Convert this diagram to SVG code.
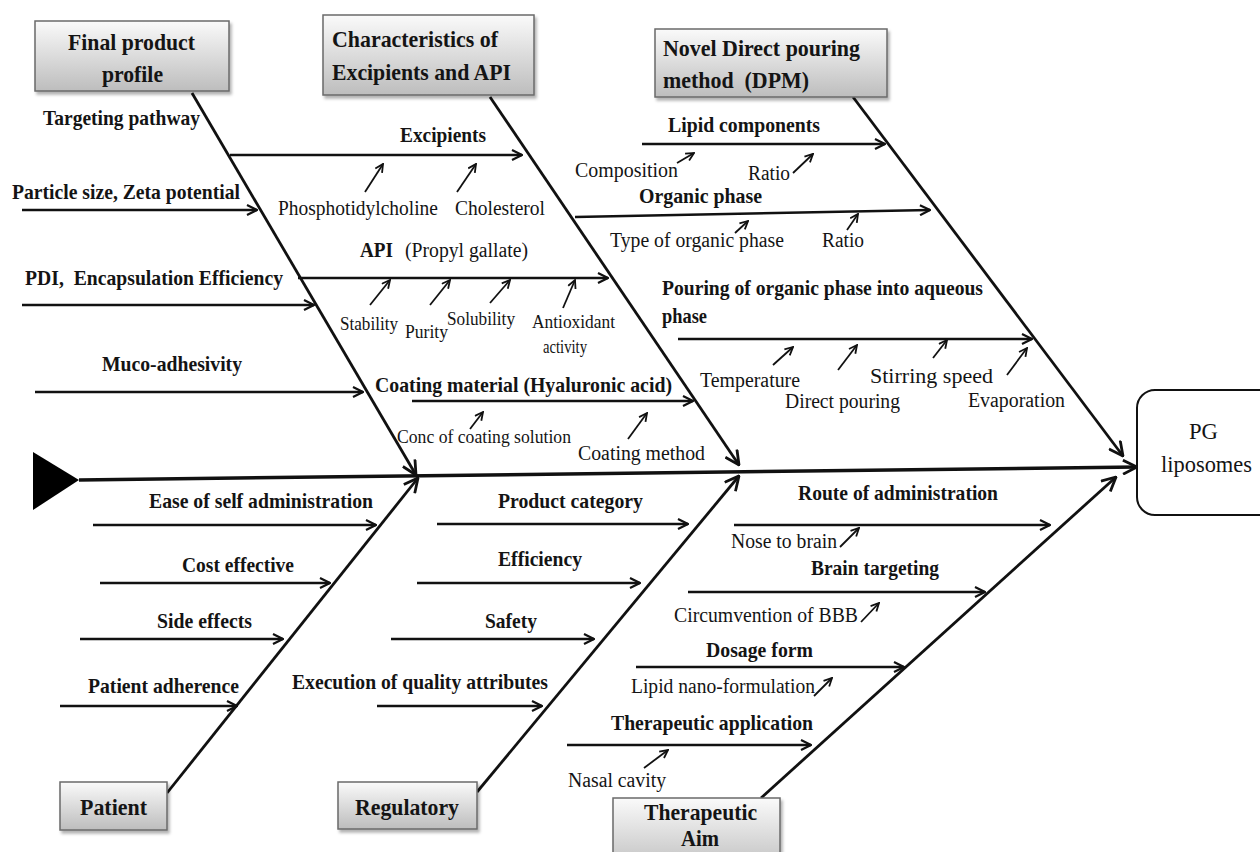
<svg xmlns="http://www.w3.org/2000/svg" width="1260" height="852" viewBox="0 0 1260 852">
<style>
.t{font-family:"Liberation Serif","Times New Roman",serif;fill:#141414}
.b{font-weight:bold;font-size:21px}
.r{font-size:20px}
.s{font-size:18px}
.h{font-weight:bold;font-size:24px}
.p{font-size:24px}
.box{fill:url(#g);stroke:#6a6a6a;stroke-width:1.5;filter:url(#sh)}
.ln{stroke:#111;fill:none;stroke-width:2.4;marker-end:url(#ah)}
.bone{stroke:#111;fill:none;stroke-width:2.8;marker-end:url(#ahb)}
.sm{stroke:#111;fill:none;stroke-width:1.8;marker-end:url(#sa)}
</style>
<defs>
<linearGradient id="g" x1="0" y1="0" x2="0" y2="1">
<stop offset="0" stop-color="#fafafa"/>
<stop offset="1" stop-color="#bdbdbd"/>
</linearGradient>
<filter id="sh" x="-10%" y="-10%" width="130%" height="140%">
<feDropShadow dx="2" dy="3" stdDeviation="1.5" flood-color="#000" flood-opacity="0.3"/>
</filter>
<marker id="ah" viewBox="0 0 12 12" markerWidth="12" markerHeight="12" refX="11" refY="6" orient="auto" markerUnits="userSpaceOnUse">
<path d="M1,1 L11,6 L1,11" fill="none" stroke="#111" stroke-width="2.2"/>
</marker>
<marker id="ahb" viewBox="0 0 16 16" markerWidth="16" markerHeight="16" refX="15" refY="8" orient="auto" markerUnits="userSpaceOnUse">
<path d="M1,1 L15,8 L1,15" fill="none" stroke="#111" stroke-width="2.8"/>
</marker>
<marker id="sa" viewBox="0 0 10 10" markerWidth="10" markerHeight="10" refX="9" refY="5" orient="auto" markerUnits="userSpaceOnUse">
<path d="M1,1 L9,5 L1,9" fill="none" stroke="#111" stroke-width="1.8"/>
</marker>
</defs>
<rect width="1260" height="852" fill="#fff"/>

<g id="connectors">
<polygon points="33,452 79,480 33,510" fill="#000"/>
<line x1="79" y1="480" x2="1137" y2="467" stroke="#111" stroke-width="3.5" marker-end="url(#ahb)"/>
<line class="bone" x1="192" y1="93" x2="416" y2="475"/>
<line class="bone" x1="167" y1="793" x2="418" y2="478"/>
<line class="bone" x1="490" y1="97" x2="739" y2="465"/>
<line class="bone" x1="477" y1="792" x2="739" y2="476"/>
<line class="bone" x1="853" y1="97" x2="1123" y2="456"/>
<line class="bone" x1="761" y1="798" x2="1116" y2="477"/>

<line class="ln" x1="22" y1="210" x2="257" y2="210"/>
<line class="ln" x1="22" y1="305" x2="314" y2="305"/>
<line class="ln" x1="35" y1="392" x2="363" y2="392"/>
<line class="ln" x1="93" y1="525" x2="376" y2="525"/>
<line class="ln" x1="100" y1="583" x2="330" y2="583"/>
<line class="ln" x1="80" y1="639" x2="283" y2="639"/>
<line class="ln" x1="60" y1="706" x2="237" y2="706"/>
<line class="ln" x1="230" y1="155" x2="522" y2="155"/>
<line class="ln" x1="298" y1="278" x2="608" y2="278"/>
<line class="ln" x1="412" y1="401" x2="693" y2="401"/>
<line class="ln" x1="642" y1="144" x2="885" y2="144"/>
<line class="ln" x1="575" y1="217" x2="930" y2="210"/>
<line class="ln" x1="678" y1="339" x2="1032" y2="339"/>
<line class="ln" x1="437" y1="524" x2="688" y2="524"/>
<line class="ln" x1="417" y1="583" x2="640" y2="583"/>
<line class="ln" x1="391" y1="639" x2="594" y2="639"/>
<line class="ln" x1="377" y1="706" x2="542" y2="706"/>
<line class="ln" x1="734" y1="525" x2="1050" y2="525"/>
<line class="ln" x1="688" y1="592" x2="985" y2="592"/>
<line class="ln" x1="636" y1="667" x2="904" y2="667"/>
<line class="ln" x1="567" y1="745" x2="811" y2="745"/>

<line class="sm" x1="365" y1="192" x2="383" y2="164"/>
<line class="sm" x1="457" y1="192" x2="476" y2="164"/>
<line class="sm" x1="370" y1="305" x2="390" y2="280"/>
<line class="sm" x1="430" y1="305" x2="450" y2="280"/>
<line class="sm" x1="490" y1="303" x2="510" y2="280"/>
<line class="sm" x1="563" y1="308" x2="575" y2="280"/>
<line class="sm" x1="470" y1="429" x2="483" y2="412"/>
<line class="sm" x1="628" y1="439" x2="647" y2="413"/>
<line class="sm" x1="677" y1="163" x2="694" y2="153"/>
<line class="sm" x1="793" y1="173" x2="813" y2="154"/>
<line class="sm" x1="735" y1="233" x2="748" y2="221"/>
<line class="sm" x1="847" y1="230" x2="858" y2="214"/>
<line class="sm" x1="773" y1="365" x2="793" y2="347"/>
<line class="sm" x1="838" y1="370" x2="857" y2="345"/>
<line class="sm" x1="933" y1="358" x2="947" y2="340"/>
<line class="sm" x1="1007" y1="375" x2="1027" y2="348"/>
<line class="sm" x1="840" y1="547" x2="859" y2="528"/>
<line class="sm" x1="861" y1="622" x2="879" y2="603"/>
<line class="sm" x1="814" y1="696" x2="832" y2="678"/>
<line class="sm" x1="644" y1="768" x2="668" y2="750"/>
</g>

<g id="node-final-product-profile">
<rect class="box" x="35" y="21" width="194" height="70"/>
<text class="t h" x="68" y="50" textLength="127" lengthAdjust="spacingAndGlyphs">Final product</text>
<text class="t h" x="102" y="82" textLength="61" lengthAdjust="spacingAndGlyphs">profile</text>
</g>
<g id="node-characteristics">
<rect class="box" x="323" y="15" width="211" height="80"/>
<text class="t h" x="332" y="47" textLength="166" lengthAdjust="spacingAndGlyphs">Characteristics of</text>
<text class="t h" x="332" y="80" textLength="179" lengthAdjust="spacingAndGlyphs">Excipients and API</text>
</g>
<g id="node-dpm">
<rect class="box" x="655" y="29" width="232" height="68"/>
<text class="t h" x="663" y="56" textLength="197" lengthAdjust="spacingAndGlyphs">Novel Direct pouring</text>
<text class="t h" x="663" y="88" textLength="146" lengthAdjust="spacingAndGlyphs" style="white-space:pre">method  (DPM)</text>
</g>
<g id="node-patient">
<rect class="box" x="60" y="782" width="107" height="48"/>
<text class="t h" x="80" y="815" textLength="67" lengthAdjust="spacingAndGlyphs">Patient</text>
</g>
<g id="node-regulatory">
<rect class="box" x="338" y="782" width="139" height="47"/>
<text class="t h" x="355" y="815" textLength="104" lengthAdjust="spacingAndGlyphs">Regulatory</text>
</g>
<g id="node-therapeutic-aim">
<rect class="box" x="613" y="798" width="167" height="75"/>
<text class="t h" x="644" y="820" textLength="113" lengthAdjust="spacingAndGlyphs">Therapeutic</text>
<text class="t h" x="681" y="846" textLength="38" lengthAdjust="spacingAndGlyphs">Aim</text>
</g>
<g id="node-pg-liposomes">
<rect x="1137" y="390" width="140" height="125" rx="18" ry="18" fill="#fff" stroke="#111" stroke-width="2"/>
<text class="t p" x="1189" y="439" textLength="29" lengthAdjust="spacingAndGlyphs">PG</text>
<text class="t p" x="1161" y="472" textLength="91" lengthAdjust="spacingAndGlyphs">liposomes</text>
</g>

<g id="labels-final-product">
<text class="t b" x="43" y="125" textLength="157" lengthAdjust="spacingAndGlyphs">Targeting pathway</text>
<text class="t b" x="12" y="199" textLength="228" lengthAdjust="spacingAndGlyphs">Particle size, Zeta potential</text>
<text class="t b" x="25" y="285" textLength="258" lengthAdjust="spacingAndGlyphs" style="white-space:pre">PDI,  Encapsulation Efficiency</text>
<text class="t b" x="102" y="371" textLength="140" lengthAdjust="spacingAndGlyphs">Muco-adhesivity</text>
</g>
<g id="labels-patient">
<text class="t b" x="149" y="508" textLength="224" lengthAdjust="spacingAndGlyphs">Ease of self administration</text>
<text class="t b" x="182" y="572" textLength="112" lengthAdjust="spacingAndGlyphs">Cost effective</text>
<text class="t b" x="157" y="628" textLength="95" lengthAdjust="spacingAndGlyphs">Side effects</text>
<text class="t b" x="88" y="693" textLength="151" lengthAdjust="spacingAndGlyphs">Patient adherence</text>
</g>
<g id="labels-characteristics">
<text class="t b" x="400" y="142" textLength="86" lengthAdjust="spacingAndGlyphs">Excipients</text>
<text class="t r" x="278" y="215" textLength="160" lengthAdjust="spacingAndGlyphs">Phosphotidylcholine</text>
<text class="t r" x="455" y="215" textLength="90" lengthAdjust="spacingAndGlyphs">Cholesterol</text>
<text class="t b" x="360" y="257" textLength="33" lengthAdjust="spacingAndGlyphs">API</text>
<text class="t r" x="405" y="257" textLength="123" lengthAdjust="spacingAndGlyphs">(Propyl gallate)</text>
<text class="t s" x="340" y="330" textLength="58" lengthAdjust="spacingAndGlyphs">Stability</text>
<text class="t s" x="405" y="338" textLength="43" lengthAdjust="spacingAndGlyphs">Purity</text>
<text class="t s" x="447" y="325" textLength="68" lengthAdjust="spacingAndGlyphs">Solubility</text>
<text class="t s" x="532" y="328" textLength="83" lengthAdjust="spacingAndGlyphs">Antioxidant</text>
<text class="t s" x="543" y="353" textLength="44" lengthAdjust="spacingAndGlyphs">activity</text>
<text class="t b" x="375" y="392" textLength="297" lengthAdjust="spacingAndGlyphs">Coating material (Hyaluronic acid)</text>
<text class="t s" x="397" y="443" textLength="174" lengthAdjust="spacingAndGlyphs">Conc of coating solution</text>
<text class="t r" x="578" y="460" textLength="127" lengthAdjust="spacingAndGlyphs">Coating method</text>
</g>
<g id="labels-dpm">
<text class="t b" x="668" y="132" textLength="152" lengthAdjust="spacingAndGlyphs">Lipid components</text>
<text class="t r" x="575" y="177" textLength="103" lengthAdjust="spacingAndGlyphs">Composition</text>
<text class="t r" x="748" y="180" textLength="42" lengthAdjust="spacingAndGlyphs">Ratio</text>
<text class="t b" x="639" y="203" textLength="123" lengthAdjust="spacingAndGlyphs">Organic phase</text>
<text class="t r" x="610" y="247" textLength="174" lengthAdjust="spacingAndGlyphs">Type of organic phase</text>
<text class="t r" x="822" y="247" textLength="42" lengthAdjust="spacingAndGlyphs">Ratio</text>
<text class="t b" x="662" y="295" textLength="321" lengthAdjust="spacingAndGlyphs">Pouring of organic phase into aqueous</text>
<text class="t b" x="662" y="323" textLength="45" lengthAdjust="spacingAndGlyphs">phase</text>
<text class="t r" x="700" y="387" textLength="100" lengthAdjust="spacingAndGlyphs">Temperature</text>
<text class="t r" x="785" y="408" textLength="115" lengthAdjust="spacingAndGlyphs">Direct pouring</text>
<text class="t r" x="870" y="383" textLength="123" lengthAdjust="spacingAndGlyphs" style="font-size:22px">Stirring speed</text>
<text class="t r" x="968" y="407" textLength="97" lengthAdjust="spacingAndGlyphs">Evaporation</text>
</g>
<g id="labels-regulatory">
<text class="t b" x="498" y="508" textLength="145" lengthAdjust="spacingAndGlyphs">Product category</text>
<text class="t b" x="498" y="566" textLength="84" lengthAdjust="spacingAndGlyphs">Efficiency</text>
<text class="t b" x="485" y="628" textLength="52" lengthAdjust="spacingAndGlyphs">Safety</text>
<text class="t b" x="292" y="689" textLength="256" lengthAdjust="spacingAndGlyphs">Execution of quality attributes</text>
</g>
<g id="labels-therapeutic">
<text class="t b" x="798" y="500" textLength="200" lengthAdjust="spacingAndGlyphs">Route of administration</text>
<text class="t r" x="731" y="548" textLength="106" lengthAdjust="spacingAndGlyphs">Nose to brain</text>
<text class="t b" x="811" y="575" textLength="128" lengthAdjust="spacingAndGlyphs">Brain targeting</text>
<text class="t r" x="674" y="622" textLength="184" lengthAdjust="spacingAndGlyphs">Circumvention of BBB</text>
<text class="t b" x="706" y="657" textLength="107" lengthAdjust="spacingAndGlyphs">Dosage form</text>
<text class="t r" x="631" y="693" textLength="184" lengthAdjust="spacingAndGlyphs">Lipid nano-formulation</text>
<text class="t b" x="611" y="730" textLength="202" lengthAdjust="spacingAndGlyphs">Therapeutic application</text>
<text class="t r" x="568" y="787" textLength="98" lengthAdjust="spacingAndGlyphs">Nasal cavity</text>
</g>
</svg>
